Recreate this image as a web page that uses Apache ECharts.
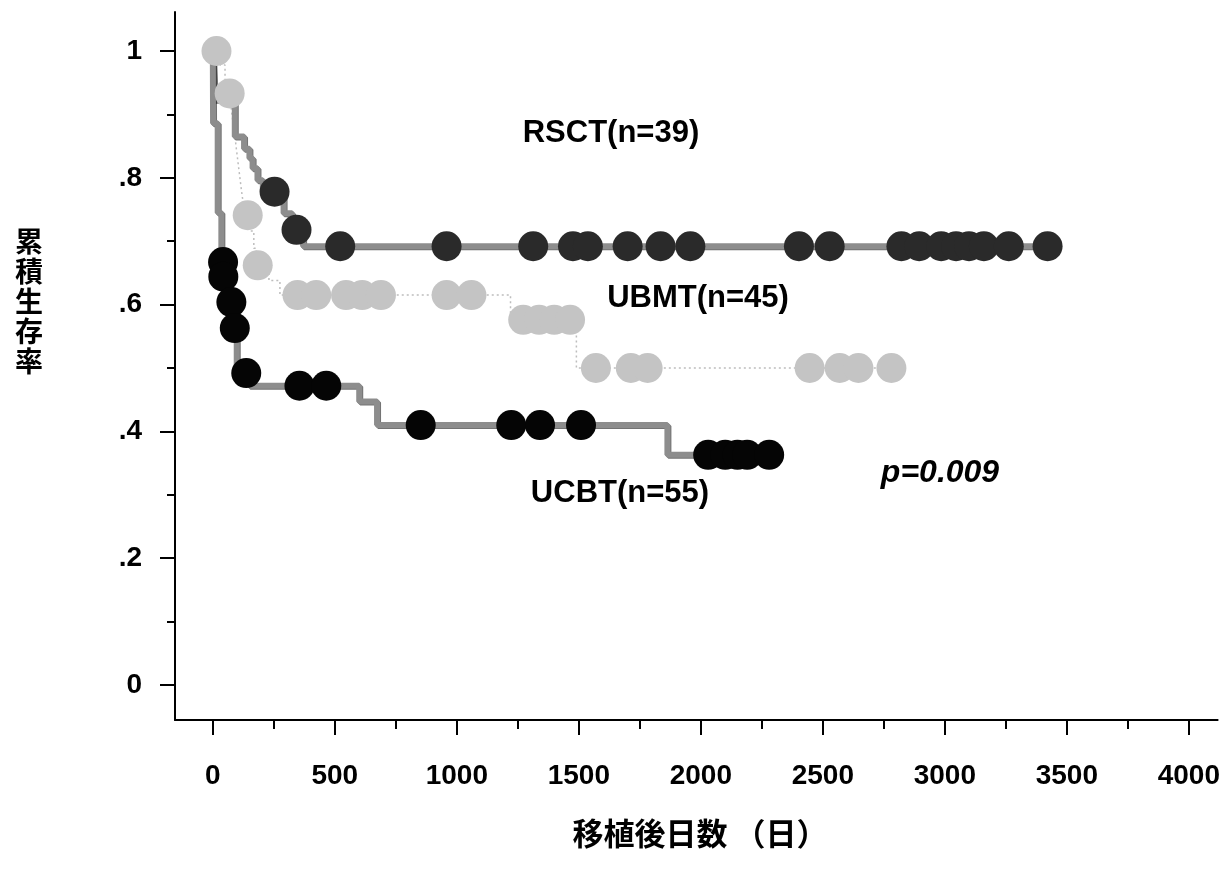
<!DOCTYPE html>
<html>
<head>
<meta charset="utf-8">
<style>
  html, body { margin: 0; padding: 0; background: #fff; }
  #chart { width: 1223px; height: 884px; }
</style>
<script src="https://cdn.jsdelivr.net/npm/echarts@6/dist/echarts.min.js"></script>
</head>
<body>
<div id="chart"></div>
<script>
  /*
    data: 生存曲線 (day, survival) と打ち切り (censor) の点
  */
  var rsctStepDay    = [0, 8, 90, 128, 150, 163, 183, 205, 290, 325, 370, 3421];
  var rsctStepSurv   = [1, 0.923, 0.865, 0.846, 0.831, 0.815, 0.796, 0.778, 0.744, 0.718, 0.692, 0.692];
  var rsctCensorDay  = [253, 343, 522, 958, 1313, 1476, 1537, 1700, 1835, 1957, 2402, 2528,
                        2822, 2895, 2985, 3046, 3099, 3160, 3262, 3421];
  var rsctCensorSurv = [0.778, 0.718, 0.692, 0.692, 0.692, 0.692, 0.692, 0.692, 0.692, 0.692,
                        0.692, 0.692, 0.692, 0.692, 0.692, 0.692, 0.692, 0.692, 0.692, 0.692];

  var ubmtStepDay    = [0, 30, 50, 60, 75, 82, 90, 97, 104, 111, 118, 125, 132, 155, 168, 178,
                        230, 275, 1220, 1490, 2781];
  var ubmtStepSurv   = [1, 0.978, 0.955, 0.933, 0.911, 0.889, 0.867, 0.844, 0.822, 0.8, 0.778,
                        0.759, 0.741, 0.716, 0.689, 0.662, 0.638, 0.615, 0.576, 0.5, 0.5];
  var ubmtCensorDay  = [15, 69, 143, 184, 347, 424, 546, 612, 689, 958, 1060, 1272, 1337, 1399,
                        1464, 1570, 1713, 1782, 2446, 2569, 2646, 2781];
  var ubmtCensorSurv = [1, 0.933, 0.741, 0.662, 0.615, 0.615, 0.615, 0.615, 0.615, 0.615, 0.615,
                        0.576, 0.576, 0.576, 0.576, 0.5, 0.5, 0.5, 0.5, 0.5, 0.5, 0.5];

  var ucbtStepDay    = [0, 1, 20, 35, 42, 70, 85, 98, 150, 600, 673, 1863, 2280];
  var ucbtStepSurv   = [1, 0.886, 0.745, 0.667, 0.644, 0.604, 0.563, 0.492, 0.472, 0.447, 0.41,
                        0.363, 0.363];
  var ucbtCensorDay  = [42, 43, 76, 90, 137, 355, 465, 852, 1223, 1341, 1509, 2030, 2100, 2150,
                        2190, 2280];
  var ucbtCensorSurv = [0.667, 0.644, 0.604, 0.563, 0.492, 0.472, 0.472, 0.41, 0.41, 0.41, 0.41,
                        0.363, 0.363, 0.363, 0.363, 0.363];

  var xMajorTicks = [0, 500, 1000, 1500, 2000, 2500, 3000, 3500, 4000];
  var xMinorTicks = [250, 750, 1250, 1750, 2250, 2750, 3250, 3750];
  var yMajorTicks = [0, 0.2, 0.4, 0.6, 0.8, 1];
  var yMinorTicks = [0.1, 0.3, 0.5, 0.7, 0.9];
  var yTickText   = {'0': '0', '0.2': '.2', '0.4': '.4', '0.6': '.6', '0.8': '.8', '1': '1'};

  var groupLabels = ['RSCT(n=39)', 'UBMT(n=45)', 'UCBT(n=55)'];
  var pValueText  = 'p=0.009';
  var yAxisName   = '累積生存率';
  var xAxisName   = '移植後日数 （日）';

  (function(){
    'use strict';

    var pairs = function(xs, ys){
      return xs.map(function(x, i){ return [x, ys[i]]; });
    };

    var latin = '"Liberation Sans", Arial, sans-serif',
        cjk   = '"Noto Sans CJK JP", "Noto Sans CJK SC", sans-serif';

    /*
      step line: 太いグレー線 (RSCT, UCBT) と点線 (UBMT)
    */
    var stepLine = function(name, data, style){
      return {
        name: name, type: 'line', step: 'end', data: data,
        symbol: 'none', silent: true, z: 2,
        lineStyle: style
      };
    };
    var thickLine = {
      color: '#8d8d8d', width: 6,
      shadowColor: 'rgba(0,0,0,0.55)', shadowOffsetX: 1, shadowOffsetY: 1
    };

    var censor = function(name, data, color, z){
      return {
        name: name, type: 'scatter', data: data,
        symbol: 'circle', symbolSize: 30, silent: true, z: z,
        itemStyle: {color: color, opacity: 1}
      };
    };

    /*
      axes: 主目盛 (ラベル付き) と副目盛の二本ずつ、同じ grid に重ねる
    */
    var tickFont = {color: '#000', fontSize: 28, fontWeight: 'bold', fontFamily: latin};
    var minorAxis = function(min, max, pos, ticks, len){
      return {
        type: 'value', min: min, max: max, position: pos,
        splitLine: {show: false},
        axisLine: {show: false, onZero: false},
        axisTick: {customValues: ticks, length: len, lineStyle: {color: '#000', width: 2}},
        axisLabel: {show: false}
      };
    };

    var option = {
      backgroundColor: '#fff',
      animation: false,
      grid: {left: 175, right: 0, top: 12, bottom: 164},
      xAxis: [
        {
          type: 'value', min: -155, max: 4118, position: 'bottom',
          splitLine: {show: false},
          axisLine: {show: true, onZero: false, lineStyle: {color: '#000', width: 2}},
          axisTick: {customValues: xMajorTicks, length: 15, lineStyle: {color: '#000', width: 2}},
          axisLabel: Object.assign({
            customValues: xMajorTicks, margin: 42,
            formatter: function(v){ return String(Math.round(v)); }
          }, tickFont)
        },
        minorAxis(-155, 4118, 'bottom', xMinorTicks, 9)
      ],
      yAxis: [
        {
          type: 'value', min: -0.0552, max: 1.0615, position: 'left',
          splitLine: {show: false},
          axisLine: {show: true, onZero: false, lineStyle: {color: '#000', width: 2}},
          axisTick: {customValues: yMajorTicks, length: 15, lineStyle: {color: '#000', width: 2}},
          axisLabel: Object.assign({
            customValues: yMajorTicks, margin: 33,
            formatter: function(v){ return yTickText[String(+v.toFixed(1))]; }
          }, tickFont)
        },
        minorAxis(-0.0552, 1.0615, 'left', yMinorTicks, 8)
      ],
      series: [
        stepLine('UBMT', pairs(ubmtStepDay, ubmtStepSurv),
          {color: '#bdbdbd', width: 1.5, type: [2, 3]}),
        stepLine('RSCT', pairs(rsctStepDay, rsctStepSurv), thickLine),
        stepLine('UCBT', pairs(ucbtStepDay, ucbtStepSurv), thickLine),
        censor('UBMT censor', pairs(ubmtCensorDay, ubmtCensorSurv), '#c4c4c4', 3),
        censor('RSCT censor', pairs(rsctCensorDay, rsctCensorSurv), '#2a2a2a', 4),
        censor('UCBT censor', pairs(ucbtCensorDay, ucbtCensorSurv), '#050505', 5)
      ],
      graphic: [
        {type: 'text', style: {x: 611, y: 133, text: groupLabels[0], align: 'center', verticalAlign: 'middle',
          font: 'bold 31px ' + latin, fill: '#000'}},
        {type: 'text', style: {x: 698, y: 298, text: groupLabels[1], align: 'center', verticalAlign: 'middle',
          font: 'bold 31px ' + latin, fill: '#000'}},
        {type: 'text', style: {x: 620, y: 493, text: groupLabels[2], align: 'center', verticalAlign: 'middle',
          font: 'bold 31px ' + latin, fill: '#000'}},
        {type: 'text', style: {x: 940, y: 473, text: pValueText, align: 'center', verticalAlign: 'middle',
          font: 'italic bold 32px ' + latin, fill: '#000'}},
        {type: 'text', style: {x: 29, y: 301, text: yAxisName.split('').join('\n'), align: 'center',
          verticalAlign: 'middle', fontSize: 28, fontWeight: 'bold', fontFamily: cjk,
          lineHeight: 30, fill: '#000'}},
        {type: 'text', style: {x: 700, y: 833, text: xAxisName, align: 'center', verticalAlign: 'middle',
          font: 'bold 31px ' + cjk, fill: '#000'}}
      ]
    };

    echarts.init(document.getElementById('chart')).setOption(option);
  })();
</script>
</body>
</html>
